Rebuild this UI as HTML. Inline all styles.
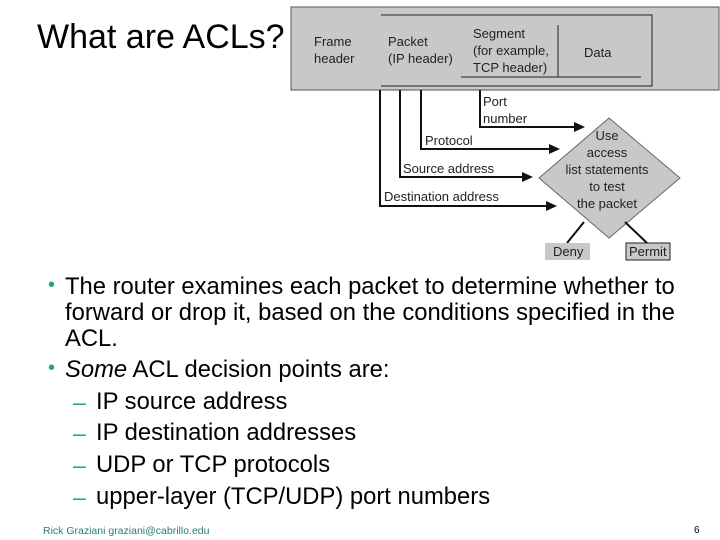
<!DOCTYPE html>
<html><head><meta charset="utf-8"><style>
body{margin:0;width:720px;height:540px;background:#fff;position:relative;overflow:hidden;font-family:"Liberation Sans",Arial,sans-serif;color:#000}
.t{position:absolute;white-space:nowrap;font-size:23.8px;line-height:26px}
.b{position:absolute;color:#2a9d8f;font-size:20px}
.d{position:absolute;color:#2a9d8f;font-size:23px}
</style></head><body>
<div class="t" style="left:37px;top:19px;font-size:34px;line-height:36px">What are ACLs?</div>
<svg style="position:absolute;left:0;top:0" width="720" height="270" font-family="Liberation Sans,Arial,sans-serif" font-size="13" fill="#222">
<rect x="291" y="7" width="428" height="83" fill="#c8c8c8" stroke="#555" stroke-width="1"/>
<polyline points="381,15 652,15 652,86 381,86" fill="none" stroke="#222" stroke-width="1"/>
<line x1="461" y1="77" x2="641" y2="77" stroke="#222"/>
<line x1="558" y1="25" x2="558" y2="77" stroke="#222"/>
<text x="314" y="46">Frame</text><text x="314" y="63">header</text>
<text x="388" y="46">Packet</text><text x="388" y="63">(IP header)</text>
<text x="473" y="38">Segment</text><text x="473" y="55">(for example,</text><text x="473" y="72">TCP header)</text>
<text x="584" y="57">Data</text>
<polygon points="539,178 609,118 680,178 609,238" fill="#c8c8c8" stroke="#666"/>
<g stroke="#111" stroke-width="2" fill="none">
<polyline points="380,90 380,206 548,206"/>
<polyline points="400,90 400,177 524,177"/>
<polyline points="421,90 421,149 551,149"/>
<polyline points="480,90 480,127 576,127"/>
<line x1="584" y1="222" x2="567" y2="243"/>
<line x1="625" y1="222" x2="647" y2="243"/>
</g>
<g fill="#111">
<polygon points="557,206 546,201 546,211"/>
<polygon points="533,177 522,172 522,182"/>
<polygon points="560,149 549,144 549,154"/>
<polygon points="585,127 574,122 574,132"/>
</g>
<text x="483" y="106">Port</text><text x="483" y="123">number</text>
<text x="425" y="145">Protocol</text>
<text x="403" y="173">Source address</text>
<text x="384" y="201">Destination address</text>
<g text-anchor="middle"><text x="607" y="140">Use</text><text x="607" y="157">access</text><text x="607" y="174">list statements</text><text x="607" y="191">to test</text><text x="607" y="208">the packet</text></g>
<rect x="545" y="243" width="45" height="17" fill="#c8c8c8"/>
<rect x="626" y="243" width="44" height="17" fill="#c8c8c8" stroke="#222"/>
<text x="553" y="256">Deny</text><text x="629" y="256">Permit</text>
</svg>
<div class="b" style="left:48px;top:274px">•</div>
<div class="t" style="left:65px;top:274px">The router examines each packet to determine whether to</div>
<div class="t" style="left:65px;top:300px">forward or drop it, based on the conditions specified in the</div>
<div class="t" style="left:65px;top:326px">ACL.</div>
<div class="b" style="left:48px;top:357px">•</div>
<div class="t" style="left:65px;top:357px"><i>Some</i> ACL decision points are:</div>
<div class="d" style="left:73px;top:389px">–</div><div class="t" style="left:96px;top:389px">IP source address</div>
<div class="d" style="left:73px;top:420px">–</div><div class="t" style="left:96px;top:420px">IP destination addresses</div>
<div class="d" style="left:73px;top:452px">–</div><div class="t" style="left:96px;top:452px">UDP or TCP protocols</div>
<div class="d" style="left:73px;top:484px">–</div><div class="t" style="left:96px;top:484px">upper-layer (TCP/UDP) port numbers</div>
<div style="position:absolute;left:43px;top:525px;font-size:10.5px;color:#2a7d6f">Rick Graziani  graziani@cabrillo.edu</div>
<div style="position:absolute;left:694px;top:525px;font-size:10px">6</div>
</body></html>
